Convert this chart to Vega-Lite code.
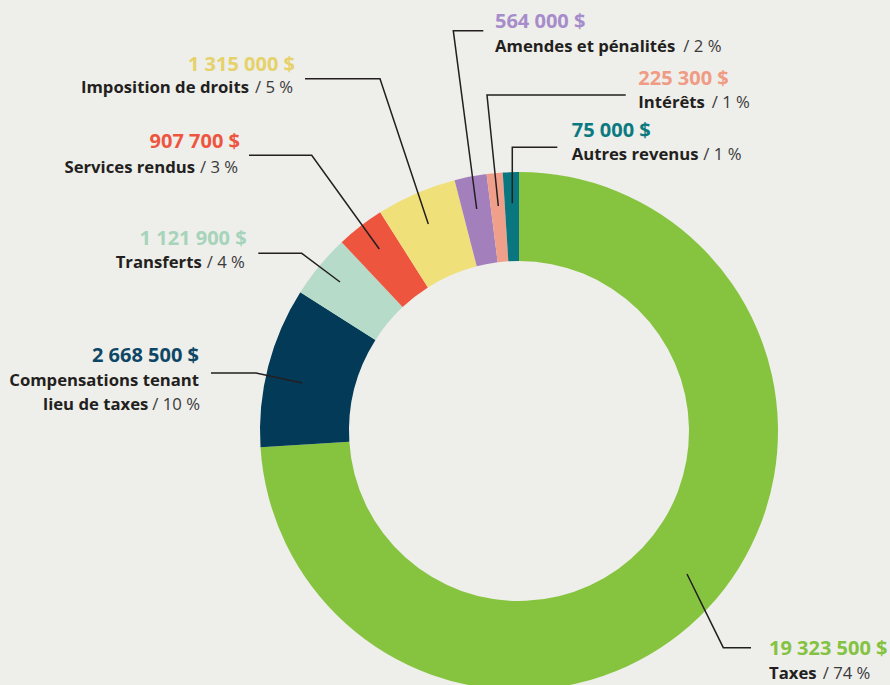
{
  "$schema": "https://vega.github.io/schema/vega-lite/v6.json",
  "width": 742,
  "height": 508,
  "autosize": {"type": "none"},
  "padding": {"left": 148, "top": 177, "right": 0, "bottom": 0},
  "background": "#eeeeea",
  "config": {"view": {"stroke": null}, "font": "Open Sans"},
  "datasets": {
    "slices": [
      {"category": "Taxes", "amount": 19323500, "pct": 74, "order": 1},
      {"category": "Compensations tenant lieu de taxes", "amount": 2668500, "pct": 10, "order": 2},
      {"category": "Transferts", "amount": 1121900, "pct": 4, "order": 3},
      {"category": "Services rendus", "amount": 907700, "pct": 3, "order": 4},
      {"category": "Imposition de droits", "amount": 1315000, "pct": 5, "order": 5},
      {"category": "Amendes et pénalités", "amount": 564000, "pct": 2, "order": 6},
      {"category": "Intérêts", "amount": 225300, "pct": 1, "order": 7},
      {"category": "Autres revenus", "amount": 75000, "pct": 1, "order": 8}
    ],
    "leaders": [
      {"category": "Taxes", "seq": 1, "lx": 0.8958, "ly": -0.8367},
      {"category": "Taxes", "seq": 2, "lx": 0.7888, "ly": -0.8367},
      {"category": "Taxes", "seq": 3, "lx": 0.6486, "ly": -0.5521},
      {"category": "Compensations tenant lieu de taxes", "seq": 1, "lx": -1.1892, "ly": 0.2239},
      {"category": "Compensations tenant lieu de taxes", "seq": 2, "lx": -1.0154, "ly": 0.2239},
      {"category": "Compensations tenant lieu de taxes", "seq": 3, "lx": -0.8378, "ly": 0.1853},
      {"category": "Transferts", "seq": 1, "lx": -1.0066, "ly": 0.6861},
      {"category": "Transferts", "seq": 2, "lx": -0.839, "ly": 0.6861},
      {"category": "Transferts", "seq": 3, "lx": -0.6911, "ly": 0.5753},
      {"category": "Services rendus", "seq": 1, "lx": -1.0425, "ly": 1.0645},
      {"category": "Services rendus", "seq": 2, "lx": -0.8004, "ly": 1.0645},
      {"category": "Services rendus", "seq": 3, "lx": -0.5394, "ly": 0.7027},
      {"category": "Imposition de droits", "seq": 1, "lx": -0.8263, "ly": 1.3602},
      {"category": "Imposition de droits", "seq": 2, "lx": -0.5367, "ly": 1.3602},
      {"category": "Imposition de droits", "seq": 3, "lx": -0.3502, "ly": 0.7992},
      {"category": "Amendes et pénalités", "seq": 1, "lx": -0.1378, "ly": 1.5456},
      {"category": "Amendes et pénalités", "seq": 2, "lx": -0.2537, "ly": 1.5456},
      {"category": "Amendes et pénalités", "seq": 3, "lx": -0.1633, "ly": 0.8571},
      {"category": "Intérêts", "seq": 1, "lx": 0.412, "ly": 1.2973},
      {"category": "Intérêts", "seq": 2, "lx": -0.1236, "ly": 1.2973},
      {"category": "Intérêts", "seq": 3, "lx": -0.0799, "ly": 0.8687},
      {"category": "Autres revenus", "seq": 1, "lx": 0.1479, "ly": 1.0954},
      {"category": "Autres revenus", "seq": 2, "lx": -0.0259, "ly": 1.0954},
      {"category": "Autres revenus", "seq": 3, "lx": -0.0259, "ly": 0.8792}
    ],
    "labels": [
      {"category": "Taxes", "part": "value", "side": "right", "tx": 0.9653, "ty": -0.8649, "text": "19 323 500 $"},
      {"category": "Compensations tenant lieu de taxes", "part": "value", "side": "left", "tx": -1.2355, "ty": 0.2664, "text": "2 668 500 $"},
      {"category": "Transferts", "part": "value", "side": "left", "tx": -1.0514, "ty": 0.7181, "text": "1 121 900 $"},
      {"category": "Services rendus", "part": "value", "side": "left", "tx": -1.0772, "ty": 1.0915, "text": "907 700 $"},
      {"category": "Imposition de droits", "part": "value", "side": "left", "tx": -0.8649, "ty": 1.39, "text": "1 315 000 $"},
      {"category": "Amendes et pénalités", "part": "value", "side": "right", "tx": -0.0927, "ty": 1.5548, "text": "564 000 $"},
      {"category": "Intérêts", "part": "value", "side": "right", "tx": 0.4606, "ty": 1.3359, "text": "225 300 $"},
      {"category": "Autres revenus", "part": "value", "side": "right", "tx": 0.2035, "ty": 1.1363, "text": "75 000 $"},

      {"category": "Taxes", "part": "name", "side": "right", "tx": 0.9653, "ty": -0.9587, "text": "Taxes"},
      {"category": "Compensations tenant lieu de taxes", "part": "name", "side": "left", "tx": -1.2355, "ty": 0.1749, "text": "Compensations tenant"},
      {"category": "Compensations tenant lieu de taxes", "part": "name", "side": "left", "tx": -1.4313, "ty": 0.0811, "text": "lieu de taxes"},
      {"category": "Transferts", "part": "name", "side": "left", "tx": -1.2251, "ty": 0.6282, "text": "Transferts"},
      {"category": "Services rendus", "part": "name", "side": "left", "tx": -1.251, "ty": 0.9973, "text": "Services rendus"},
      {"category": "Imposition de droits", "part": "name", "side": "left", "tx": -1.0425, "ty": 1.3039, "text": "Imposition de droits"},
      {"category": "Amendes et pénalités", "part": "name", "side": "right", "tx": -0.0927, "ty": 1.4645, "text": "Amendes et pénalités"},
      {"category": "Intérêts", "part": "name", "side": "right", "tx": 0.4606, "ty": 1.2459, "text": "Intérêts"},
      {"category": "Autres revenus", "part": "name", "side": "right", "tx": 0.2035, "ty": 1.0463, "text": "Autres revenus"},

      {"category": "Taxes", "part": "pct", "side": "right", "tx": 1.1726, "ty": -0.9587, "text": "/ 74 %"},
      {"category": "Compensations tenant lieu de taxes", "part": "pct", "side": "left", "tx": -1.4158, "ty": 0.0811, "text": "/ 10 %"},
      {"category": "Transferts", "part": "pct", "side": "left", "tx": -1.2058, "ty": 0.6282, "text": "/ 4 %"},
      {"category": "Services rendus", "part": "pct", "side": "left", "tx": -1.2317, "ty": 0.9973, "text": "/ 3 %"},
      {"category": "Imposition de droits", "part": "pct", "side": "left", "tx": -1.0193, "ty": 1.3039, "text": "/ 5 %"},
      {"category": "Amendes et pénalités", "part": "pct", "side": "right", "tx": 0.6344, "ty": 1.4645, "text": "/ 2 %"},
      {"category": "Intérêts", "part": "pct", "side": "right", "tx": 0.744, "ty": 1.2459, "text": "/ 1 %"},
      {"category": "Autres revenus", "part": "pct", "side": "right", "tx": 0.7116, "ty": 1.0463, "text": "/ 1 %"}
    ]
  },
  "layer": [
    {
      "data": {"name": "slices"},
      "mark": {"type": "arc", "outerRadius": 259, "innerRadius": 170},
      "encoding": {
        "theta": {"field": "pct", "type": "quantitative", "stack": true},
        "order": {"field": "order", "type": "quantitative"},
        "color": {
          "field": "category",
          "type": "nominal",
          "legend": null,
          "scale": {
            "domain": ["Taxes", "Compensations tenant lieu de taxes", "Transferts", "Services rendus", "Imposition de droits", "Amendes et pénalités", "Intérêts", "Autres revenus"],
            "range": ["#86c440", "#033a57", "#b6dbc9", "#ee553f", "#f0e07a", "#a380bb", "#f0a08a", "#0a7680"]
          }
        }
      }
    },
    {
      "data": {"name": "leaders"},
      "mark": {"type": "line", "color": "#231f20", "strokeWidth": 1.5},
      "encoding": {
        "x": {"field": "lx", "type": "quantitative", "scale": {"domain": [-1.43243, 1.43243], "nice": false, "zero": false}, "axis": null},
        "y": {"field": "ly", "type": "quantitative", "scale": {"domain": [-0.98069, 0.98069], "nice": false, "zero": false}, "axis": null},
        "detail": {"field": "category", "type": "nominal"},
        "order": {"field": "seq", "type": "quantitative"}
      }
    },
    {
      "data": {"name": "labels"},
      "transform": [{"filter": "datum.part === 'value' && datum.side === 'left'"}],
      "mark": {"type": "text", "align": "right", "baseline": "alphabetic", "fontSize": 20, "fontWeight": 700, "font": "Open Sans"},
      "encoding": {
        "x": {"field": "tx", "type": "quantitative", "scale": {"domain": [-1.43243, 1.43243], "nice": false, "zero": false}, "axis": null},
        "y": {"field": "ty", "type": "quantitative", "scale": {"domain": [-0.98069, 0.98069], "nice": false, "zero": false}, "axis": null},
        "text": {"field": "text", "type": "nominal"},
        "color": {
          "field": "category",
          "type": "nominal",
          "legend": null,
          "scale": {
            "domain": ["Taxes", "Compensations tenant lieu de taxes", "Transferts", "Services rendus", "Imposition de droits", "Amendes et pénalités", "Intérêts", "Autres revenus"],
            "range": ["#84c341", "#0e4766", "#a6d4bb", "#ee5540", "#e6d26a", "#a78ccc", "#f09b83", "#0b7a80"]
          }
        }
      }
    },
    {
      "data": {"name": "labels"},
      "transform": [{"filter": "datum.part === 'value' && datum.side === 'right'"}],
      "mark": {"type": "text", "align": "left", "baseline": "alphabetic", "fontSize": 20, "fontWeight": 700, "font": "Open Sans"},
      "encoding": {
        "x": {"field": "tx", "type": "quantitative", "scale": {"domain": [-1.43243, 1.43243], "nice": false, "zero": false}, "axis": null},
        "y": {"field": "ty", "type": "quantitative", "scale": {"domain": [-0.98069, 0.98069], "nice": false, "zero": false}, "axis": null},
        "text": {"field": "text", "type": "nominal"},
        "color": {
          "field": "category",
          "type": "nominal",
          "legend": null,
          "scale": {
            "domain": ["Taxes", "Compensations tenant lieu de taxes", "Transferts", "Services rendus", "Imposition de droits", "Amendes et pénalités", "Intérêts", "Autres revenus"],
            "range": ["#84c341", "#0e4766", "#a6d4bb", "#ee5540", "#e6d26a", "#a78ccc", "#f09b83", "#0b7a80"]
          }
        }
      }
    },
    {
      "data": {"name": "labels"},
      "transform": [{"filter": "datum.part === 'name' && datum.side === 'left'"}],
      "mark": {"type": "text", "align": "right", "baseline": "alphabetic", "fontSize": 16.7, "fontWeight": 700, "font": "Open Sans", "color": "#231f20"},
      "encoding": {
        "x": {"field": "tx", "type": "quantitative", "scale": {"domain": [-1.43243, 1.43243], "nice": false, "zero": false}, "axis": null},
        "y": {"field": "ty", "type": "quantitative", "scale": {"domain": [-0.98069, 0.98069], "nice": false, "zero": false}, "axis": null},
        "text": {"field": "text", "type": "nominal"}
      }
    },
    {
      "data": {"name": "labels"},
      "transform": [{"filter": "datum.part === 'name' && datum.side === 'right'"}],
      "mark": {"type": "text", "align": "left", "baseline": "alphabetic", "fontSize": 16.7, "fontWeight": 700, "font": "Open Sans", "color": "#231f20"},
      "encoding": {
        "x": {"field": "tx", "type": "quantitative", "scale": {"domain": [-1.43243, 1.43243], "nice": false, "zero": false}, "axis": null},
        "y": {"field": "ty", "type": "quantitative", "scale": {"domain": [-0.98069, 0.98069], "nice": false, "zero": false}, "axis": null},
        "text": {"field": "text", "type": "nominal"}
      }
    },
    {
      "data": {"name": "labels"},
      "transform": [{"filter": "datum.part === 'pct'"}],
      "mark": {"type": "text", "align": "left", "baseline": "alphabetic", "fontSize": 16.7, "fontWeight": 400, "font": "Open Sans", "color": "#3a3a3a"},
      "encoding": {
        "x": {"field": "tx", "type": "quantitative", "scale": {"domain": [-1.43243, 1.43243], "nice": false, "zero": false}, "axis": null},
        "y": {"field": "ty", "type": "quantitative", "scale": {"domain": [-0.98069, 0.98069], "nice": false, "zero": false}, "axis": null},
        "text": {"field": "text", "type": "nominal"}
      }
    }
  ],
  "resolve": {"scale": {"color": "independent"}}
}
